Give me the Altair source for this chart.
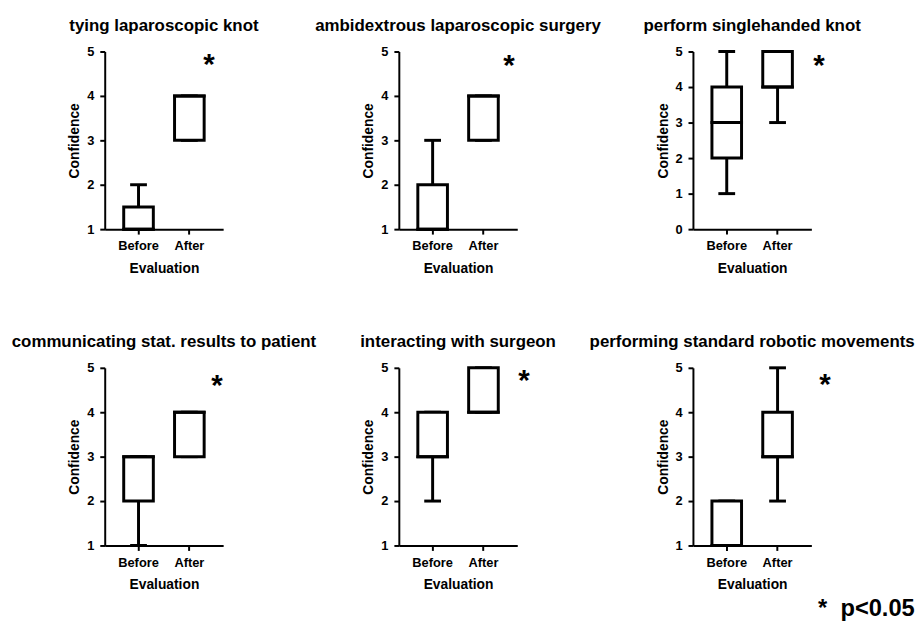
import altair as alt
import pandas as pd

FONT = "Liberation Sans"

titles = [
    "tying laparoscopic knot",
    "ambidextrous laparoscopic surgery",
    "perform singlehanded knot",
    "communicating stat. results to patient",
    "interacting with surgeon",
    "performing standard robotic movements",
]
groups = ["Before", "After"]

# box statistics per panel: [min, q1, median, q3, max]
before_stats = [
    [1, 1, 1, 1.5, 2],
    [1, 1, 1, 2, 3],
    [1, 2, 3, 4, 5],
    [1, 2, 3, 3, 3],
    [2, 3, 3, 4, 4],
    [1, 1, 1, 2, 2],
]
after_stats = [
    [3, 3, 4, 4, 4],
    [3, 3, 4, 4, 4],
    [3, 4, 4, 5, 5],
    [3, 3, 4, 4, 4],
    [4, 4, 4, 5, 5],
    [2, 3, 3, 4, 5],
]
y_lower = [1, 1, 0, 1, 1, 1]
star_level = [4.78, 4.75, 4.7, 4.67, 4.8, 4.7]
footnote = "* \u00a0p<0.05"

star_dx = [20, 26, 42, 28, 41, 48]


def panel(i):
    b, a = before_stats[i], after_stats[i]
    df = pd.DataFrame({
        "Evaluation": groups,
        "lo": [b[0], a[0]],
        "q1": [b[1], a[1]],
        "med": [b[2], a[2]],
        "q3": [b[3], a[3]],
        "hi": [b[4], a[4]],
    })
    x = alt.X(
        "Evaluation:N",
        sort=groups,
        scale=alt.Scale(type="band", paddingInner=0.4, paddingOuter=0.365),
        axis=alt.Axis(title="Evaluation", labelAngle=0, labelPadding=6, titlePadding=9),
    )
    ys = alt.Scale(domain=[y_lower[i], 5], nice=False, zero=False)
    yaxis = alt.Axis(
        title="Confidence",
        values=list(range(y_lower[i], 6)),
        labelPadding=6,
        titlePadding=5,
        labelOverlap=False,
    )

    def Y(field):
        return alt.Y(field, scale=ys, axis=yaxis)

    base = alt.Chart(df)
    whisk = base.mark_rule(color="black", strokeWidth=3).encode(
        x=x, y=Y("lo:Q"), y2="hi:Q"
    )
    cap_lo = base.mark_tick(color="black", thickness=3, size=17, opacity=1).encode(
        x=x, y=Y("lo:Q")
    )
    cap_hi = base.mark_tick(color="black", thickness=3, size=17, opacity=1).encode(
        x=x, y=Y("hi:Q")
    )
    box = base.mark_bar(size=30, fill="white", stroke="black", strokeWidth=3).encode(
        x=x, y=Y("q1:Q"), y2="q3:Q"
    )
    med = base.mark_tick(color="black", thickness=3, size=33, opacity=1).encode(
        x=x, y=Y("med:Q")
    )
    sdf = pd.DataFrame({"Evaluation": ["After"], "s": [star_level[i]]})
    star = alt.Chart(sdf).mark_text(
        text="*", font=FONT, fontSize=30, fontWeight="bold", color="black",
        dx=star_dx[i], dy=13, baseline="alphabetic", align="center",
    ).encode(x=x, y=Y("s:Q"))
    return alt.layer(whisk, cap_lo, cap_hi, box, med, star).properties(
        width=120,
        height=180,
        title=alt.TitleParams(
            titles[i], font=FONT, fontSize=17.1, fontWeight="bold", color="black",
            anchor="middle", frame="group", offset=12,
        ),
    )


chart = alt.concat(
    *[panel(i) for i in range(6)],
    columns=3,
    spacing=alt.RowColnumber(row=140.5, column=178),
    bounds="flush",
).properties(
    padding={"left": 3, "top": 4, "right": 0, "bottom": 0},
    title=alt.TitleParams(
        footnote, orient="bottom", anchor="end", font=FONT, fontSize=24,
        fontWeight="bold", color="black", offset=5,
    ),
).configure_view(
    strokeWidth=0
).configure_axis(
    domainColor="black", domainWidth=2, tickColor="black", tickWidth=2, tickSize=5,
    grid=False, labelFont=FONT, labelFontSize=13, labelFontWeight="bold",
    labelColor="black", titleFont=FONT, titleFontSize=14, titleFontWeight="bold",
    titleColor="black",
)

chart.save("out.html", embed_options={"renderer": "svg", "actions": False})
